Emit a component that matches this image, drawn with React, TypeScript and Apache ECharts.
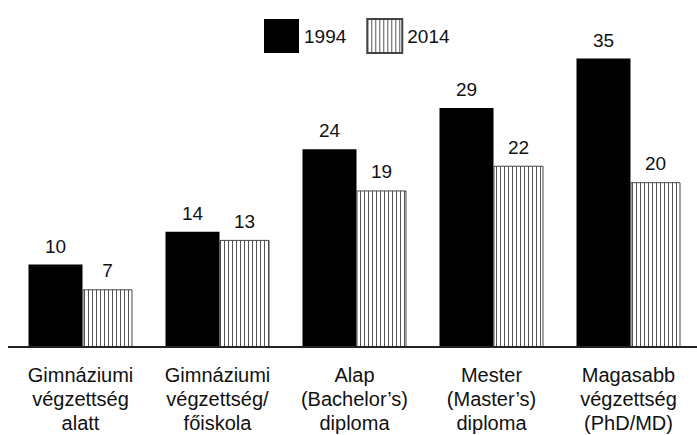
import React, { useEffect, useRef } from "react";
import * as echarts from "echarts";

const categories = [
  "Gimnáziumi\nvégzettség\nalatt",
  "Gimnáziumi\nvégzettség/\nfőiskola",
  "Alap\n(Bachelor’s)\ndiploma",
  "Mester\n(Master’s)\ndiploma",
  "Magasabb\nvégzettség\n(PhD/MD)",
];
const series1994 = [10, 14, 24, 29, 35];
const series2014 = [7, 13, 19, 22, 20];
const seriesNames = ["1994", "2014"];

function makeHatch(): HTMLCanvasElement {
  const c = document.createElement("canvas");
  c.width = 4;
  c.height = 4;
  const ctx = c.getContext("2d")!;
  ctx.fillStyle = "#ffffff";
  ctx.fillRect(0, 0, 4, 4);
  ctx.fillStyle = "#555555";
  ctx.fillRect(0, 0, 1, 4);
  return c;
}

export default function App() {
  const ref = useRef<HTMLDivElement>(null);
  useEffect(() => {
    if (!ref.current) return;
    const chart = echarts.init(ref.current, undefined, { renderer: "svg" });
    const font = "'Liberation Sans', Arial, sans-serif";
    const hatch = makeHatch();
    chart.setOption({
      animation: false,
      backgroundColor: "#ffffff",
      textStyle: { fontFamily: font },
      legend: {
        top: 13,
        left: 259,
        itemWidth: 35,
        itemHeight: 34,
        itemGap: 20,
        icon: "rect",
        textStyle: { fontSize: 19, color: "#111", fontFamily: font },
        data: seriesNames,
      },
      grid: { left: 12, right: -7, top: 17.4, bottom: 88 },
      xAxis: {
        type: "category",
        data: categories,
        axisLine: { show: false },
        axisTick: { show: false },
        axisLabel: {
          interval: 0,
          margin: 16,
          fontSize: 20,
          lineHeight: 24,
          color: "#111",
          fontFamily: font,
        },
      },
      yAxis: {
        type: "value",
        min: 0,
        max: 40,
        show: false,
        splitLine: { show: false },
      },
      series: [
        {
          name: seriesNames[0],
          type: "bar",
          data: series1994,
          barWidth: 54,
          barGap: "0%",
          itemStyle: { color: "#000000" },
          label: {
            show: true,
            position: "top",
            distance: 9,
            fontSize: 19,
            color: "#111",
            fontFamily: font,
          },
        },
        {
          name: seriesNames[1],
          type: "bar",
          data: series2014,
          barWidth: 50,
          barGap: "0%",
          itemStyle: {
            color: { image: hatch, repeat: "repeat" },
            borderColor: "#444",
            borderWidth: 1,
          },
          label: {
            show: true,
            position: "top",
            distance: 9,
            fontSize: 19,
            color: "#111",
            fontFamily: font,
          },
        },
      ],
      graphic: [
        {
          type: "line",
          shape: { x1: 8, y1: 347, x2: 697, y2: 347 },
          style: { stroke: "#222", lineWidth: 2 },
          z: 100,
        },
      ],
    });
    return () => chart.dispose();
  }, []);
  return (
    <div
      ref={ref}
      style={{ position: "fixed", left: 0, top: 0, width: 697, height: 435 }}
    />
  );
}
